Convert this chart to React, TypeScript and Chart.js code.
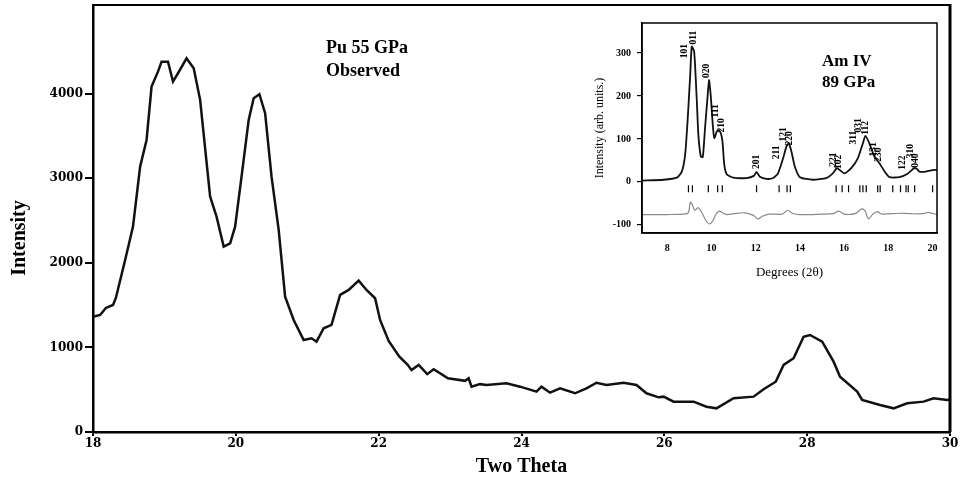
import { useEffect, useRef } from "react";
import { Chart, registerables } from "chart.js";
Chart.register(...registerables);

// ---- Main chart data (Pu 55 GPa observed) ----
const mainTwoTheta = [
  18.0, 18.1, 18.18, 18.28, 18.32, 18.45, 18.56, 18.66, 18.75, 18.82, 18.91, 18.96, 19.05, 19.12, 19.19,
  19.31, 19.41, 19.5, 19.64, 19.73, 19.83, 19.92, 19.99, 20.08, 20.18, 20.25, 20.33, 20.41, 20.5, 20.6,
  20.69, 20.81, 20.95, 21.06, 21.13, 21.23, 21.34, 21.46, 21.58, 21.72, 21.83, 21.95, 22.02, 22.14, 22.29,
  22.4, 22.46, 22.56, 22.68, 22.77, 22.97, 23.21, 23.26, 23.3, 23.42, 23.51, 23.79, 23.98, 24.21, 24.28,
  24.4, 24.54, 24.75, 24.91, 25.05, 25.19, 25.43, 25.61, 25.75, 25.92, 25.99, 26.13, 26.41, 26.59, 26.73,
  26.97, 27.25, 27.39, 27.56, 27.67, 27.81, 27.95, 28.04, 28.21, 28.37, 28.46, 28.7, 28.77, 29.02, 29.21,
  29.4, 29.63, 29.77, 29.96, 30.0,
];
const mainIntensity = [
  1364, 1384, 1467, 1502, 1585, 2035, 2429, 3139, 3454, 4085, 4262, 4380, 4380, 4144, 4243,
  4420, 4302, 3928, 2784, 2547, 2192, 2232, 2429, 3020, 3691, 3948, 3995, 3770, 3020, 2390,
  1601, 1325, 1088, 1108, 1068, 1227, 1266, 1621, 1680, 1790, 1680, 1582, 1325, 1078, 891,
  800, 733, 793, 684, 743, 635, 605, 635, 536, 566, 556, 576, 536, 477, 536,
  465, 517, 458, 517, 583, 556, 583, 556, 458, 410, 418, 359, 359, 299, 280,
  399, 418, 505, 595, 793, 872, 1127, 1147, 1068, 832, 654, 477, 379, 319, 280,
  339, 359, 399, 379, 385,
];
const mainXTicks = [18, 20, 22, 24, 26, 28, 30];
const mainYTicks = [0, 1000, 2000, 3000, 4000];

// ---- Inset data (Am IV 89 GPa) ----
const insetDegrees = [
  6.86, 7.83, 8.44, 8.66, 8.81, 8.92, 9.04, 9.11, 9.22, 9.34, 9.41, 9.52, 9.61, 9.71, 9.82,
  9.89, 9.97, 10.06, 10.13, 10.24, 10.32, 10.42, 10.5, 10.58, 10.69, 10.99, 11.59, 11.92, 12.04, 12.19,
  12.49, 12.79, 13.01, 13.24, 13.39, 13.5, 13.62, 13.77, 14.0, 14.59, 15.19, 15.49, 15.67, 15.79, 16.02,
  16.32, 16.62, 16.85, 16.96, 17.14, 17.37, 17.59, 17.86, 18.05, 18.5, 18.87, 19.17, 19.3, 19.4, 19.7,
  20.07, 20.2,
];
const insetIntensity = [
  3, 5, 10, 24, 63, 141, 249, 315, 303, 187, 109, 59, 58, 125, 195,
  237, 200, 133, 102, 117, 120, 114, 94, 40, 18, 10, 9, 14, 23, 12,
  7, 9, 20, 55, 82, 90, 70, 36, 11, 5, 9, 20, 32, 28, 20,
  32, 55, 90, 107, 90, 59, 44, 22, 11, 11, 19, 32, 30, 24, 24,
  28, 27,
];
const diffDegrees = [
  6.86, 8.0, 8.7, 8.95, 9.05, 9.15, 9.25, 9.4, 9.55, 9.75, 9.9, 10.05, 10.2, 10.35, 10.5,
  10.7, 11.0, 11.5, 11.9, 12.1, 12.3, 12.6, 13.2, 13.45, 13.65, 14.0, 15.0, 15.5, 15.75, 16.0,
  16.5, 16.8, 16.95, 17.1, 17.3, 17.5, 17.7, 18.5, 19.0, 19.6, 19.8, 20.2,
];
const diffValues = [
  -76, -76, -75, -72, -47, -55, -66, -60, -70, -90, -98, -92, -76, -68, -72,
  -76, -74, -72, -78, -86, -80, -75, -75, -66, -73, -76, -75, -74, -68, -75,
  -74, -63, -68, -86, -75, -69, -75, -73, -74, -74, -71, -76,
];
const reflectionPositions = [
  8.96, 9.14, 9.86, 10.28, 10.49, 12.04, 13.06, 13.42, 13.57, 15.64, 15.91, 16.2,
  16.71, 16.85, 17.0, 17.52, 17.63, 18.2, 18.55, 18.8, 18.9, 19.19, 20.0,
];
const reflectionLevel = -16;
const hklLabels = [
  "101", "011", "020", "111", "210", "201", "211", "121", "220", "221",
  "102", "311", "031", "112", "131", "230", "122", "310", "040",
];
const hklDegrees = [
  8.78, 9.18, 9.78, 10.17, 10.46, 12.04, 12.94, 13.26, 13.55, 15.5,
  15.75, 16.42, 16.65, 16.96, 17.34, 17.56, 18.65, 19.0, 19.25,
];
const hklHeights = [
  288, 320, 242, 150, 115, 30, 53, 94, 85, 35,
  30, 87, 115, 110, 59, 47, 28, 55, 33,
];
const insetXTicks = [8, 10, 12, 14, 16, 18, 20];
const insetYTicks = [-100, 0, 100, 200, 300];

const SERIF = "'Liberation Serif', 'Times New Roman', serif";

export default function App() {
  const mainRef = useRef<HTMLCanvasElement>(null);
  const insetRef = useRef<HTMLCanvasElement>(null);

  useEffect(() => {
    const mainDecor = {
      id: "mainDecor",
      afterDraw(chart: any) {
        const { ctx, chartArea } = chart;
        ctx.save();
        ctx.strokeStyle = "#000";
        ctx.lineWidth = 2;
        ctx.beginPath();
        ctx.moveTo(chartArea.left, chartArea.top);
        ctx.lineTo(chartArea.right, chartArea.top);
        ctx.stroke();
        ctx.lineWidth = 3;
        ctx.beginPath();
        ctx.moveTo(chartArea.right, chartArea.top - 1);
        ctx.lineTo(chartArea.right, chartArea.bottom);
        ctx.stroke();
        ctx.fillStyle = "#000";
        ctx.font = `bold 18px ${SERIF}`;
        ctx.textAlign = "left";
        ctx.textBaseline = "middle";
        ctx.fillText("Pu 55 GPa", 326, 48);
        ctx.fillText("Observed", 326, 71);
        ctx.translate(20, 238);
        ctx.rotate(-Math.PI / 2);
        ctx.textAlign = "center";
        ctx.font = `bold 20px ${SERIF}`;
        ctx.fillText("Intensity", 0, 0);
        ctx.restore();
      },
    };

    const main = new Chart(mainRef.current!, {
      type: "line",
      data: {
        datasets: [
          {
            data: mainTwoTheta.map((x, i) => ({ x, y: mainIntensity[i] })),
            borderColor: "#111",
            borderWidth: 2.5,
            pointRadius: 0,
            tension: 0,
            fill: false,
          },
        ],
      },
      options: {
        animation: false,
        responsive: false,
        layout: { padding: { top: 5, right: 10, left: 0, bottom: 0 } },
        plugins: { legend: { display: false }, tooltip: { enabled: false } },
        scales: {
          x: {
            type: "linear",
            min: 18,
            max: 30,
            afterBuildTicks: (s: any) => {
              s.ticks = mainXTicks.map((v) => ({ value: v }));
            },
            afterFit: (s: any) => {
              s.height = 50;
              s.paddingLeft = 0;
              s.paddingRight = 0;
            },
            border: { display: true, color: "#000", width: 2.5 },
            grid: { display: true, drawOnChartArea: false, drawTicks: true, tickLength: 4, color: "#000", lineWidth: 2 },
            ticks: {
              color: "#000",
              font: { family: "'DejaVu Serif', serif", weight: "bold", size: 12 },
              padding: 1,
              maxRotation: 0,
              callback: (v: any) => String(v),
            },
            title: {
              display: true,
              text: "Two Theta",
              color: "#000",
              font: { family: SERIF, weight: "bold", size: 20, lineHeight: 1.2 },
              padding: { top: 0, bottom: 3 },
            },
          },
          y: {
            type: "linear",
            min: 0,
            max: 5050,
            afterBuildTicks: (s: any) => {
              s.ticks = mainYTicks.map((v) => ({ value: v }));
            },
            afterFit: (s: any) => {
              s.width = 93;
              s.paddingTop = 0;
              s.paddingBottom = 0;
            },
            border: { display: true, color: "#000", width: 2.5 },
            grid: { display: true, drawOnChartArea: false, drawTicks: true, tickLength: 8, color: "#000", lineWidth: 2 },
            ticks: {
              color: "#000",
              font: { family: "'DejaVu Serif', serif", weight: "bold", size: 12 },
              padding: 2,
              callback: (v: any) => String(v),
            },
            title: { display: false },
          },
        },
      } as any,
      plugins: [mainDecor],
    });

    const insetDecor = {
      id: "insetDecor",
      afterDatasetsDraw(chart: any) {
        const { ctx, chartArea, scales } = chart;
        ctx.save();
        ctx.strokeStyle = "#000";
        ctx.lineWidth = 1.5;
        ctx.strokeRect(chartArea.left, chartArea.top, chartArea.right - chartArea.left, chartArea.bottom - chartArea.top);
        ctx.fillStyle = "#000";
        ctx.font = `bold 9.5px ${SERIF}`;
        ctx.textAlign = "left";
        ctx.textBaseline = "middle";
        hklLabels.forEach((lab, i) => {
          const px = scales.x.getPixelForValue(hklDegrees[i]);
          const py = scales.y.getPixelForValue(hklHeights[i]);
          ctx.save();
          ctx.translate(px, py);
          ctx.rotate(-Math.PI / 2);
          ctx.fillText(lab, 0, 0);
          ctx.restore();
        });
        ctx.font = `bold 17px ${SERIF}`;
        ctx.fillText("Am IV", 247, 47);
        ctx.fillText("89 GPa", 247, 68);
        ctx.restore();
      },
    };

    const inset = new Chart(insetRef.current!, {
      type: "scatter",
      data: {
        datasets: [
          {
            data: insetDegrees.map((x, i) => ({ x, y: insetIntensity[i] })),
            showLine: true,
            borderColor: "#111",
            borderWidth: 1.8,
            pointRadius: 0,
            tension: 0.2,
          },
          {
            data: diffDegrees.map((x, i) => ({ x, y: diffValues[i] })),
            showLine: true,
            borderColor: "#8a8a8a",
            borderWidth: 1.2,
            pointRadius: 0,
            tension: 0.3,
          },
          {
            data: reflectionPositions.map((x) => ({ x, y: reflectionLevel })),
            showLine: false,
            pointStyle: "line",
            rotation: 90,
            radius: 3.5,
            borderColor: "#000",
            borderWidth: 1.2,
          },
        ],
      },
      options: {
        animation: false,
        responsive: false,
        layout: { padding: { top: 8, right: 6, left: 0, bottom: 0 } },
        plugins: { legend: { display: false }, tooltip: { enabled: false } },
        scales: {
          x: {
            type: "linear",
            min: 6.86,
            max: 20.2,
            afterBuildTicks: (s: any) => {
              s.ticks = insetXTicks.map((v) => ({ value: v }));
            },
            afterFit: (s: any) => {
              s.height = 57;
              s.paddingLeft = 0;
              s.paddingRight = 0;
            },
            border: { display: true, color: "#000", width: 1.5 },
            grid: { display: false, drawTicks: false },
            ticks: {
              color: "#000",
              font: { family: SERIF, weight: "bold", size: 10 },
              padding: 9,
              maxRotation: 0,
              callback: (v: any) => String(v),
            },
            title: {
              display: true,
              text: "Degrees (2θ)",
              color: "#000",
              font: { family: SERIF, size: 13, lineHeight: 1.2 },
              padding: { top: 0, bottom: 10 },
            },
          },
          y: {
            type: "linear",
            min: -119,
            max: 370,
            afterBuildTicks: (s: any) => {
              s.ticks = insetYTicks.map((v) => ({ value: v }));
            },
            afterFit: (s: any) => {
              s.width = 67;
              s.paddingTop = 0;
              s.paddingBottom = 0;
            },
            border: { display: true, color: "#000", width: 1.5 },
            grid: { display: true, drawOnChartArea: false, drawTicks: true, tickLength: 5, color: "#000", lineWidth: 1.2 },
            ticks: {
              color: "#000",
              font: { family: SERIF, weight: "bold", size: 10 },
              padding: 6,
              callback: (v: any) => String(v),
            },
            title: {
              display: true,
              text: "Intensity (arb. units.)",
              color: "#000",
              font: { family: SERIF, size: 12, lineHeight: 1.2 },
              padding: { top: 18, bottom: 0 },
            },
          },
        },
      } as any,
      plugins: [insetDecor],
    });

    return () => {
      main.destroy();
      inset.destroy();
    };
  }, []);

  return (
    <div style={{ position: "fixed", left: 0, top: 0, width: 960, height: 482, background: "#fff" }}>
      <canvas ref={mainRef} width={960} height={482} style={{ position: "absolute", left: 0, top: 0, display: "block" }} />
      <canvas
        ref={insetRef}
        width={368}
        height={275}
        style={{ position: "absolute", left: 575, top: 15, display: "block", background: "#fff" }}
      />
    </div>
  );
}
